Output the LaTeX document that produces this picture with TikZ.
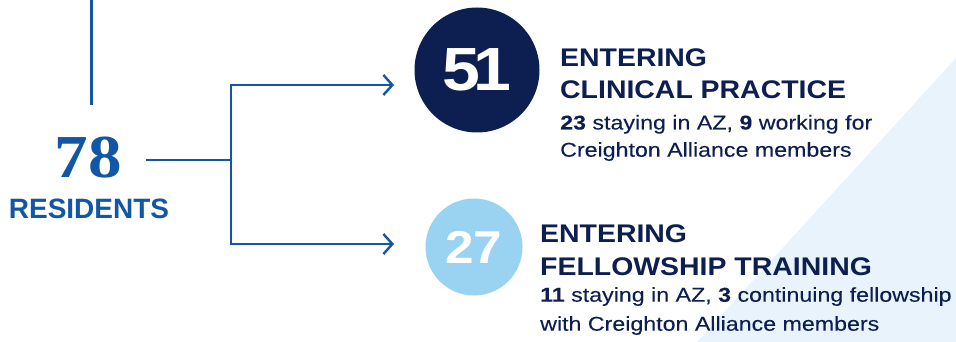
\documentclass[tikz,border=0pt]{standalone}
\usepackage{fontspec}
\setmainfont{Liberation Sans}
\newfontfamily\headfont[FakeStretch=1.115]{Liberation Sans}
\newfontfamily\bodyfont[FakeStretch=1.16,FakeBold=0.12]{Liberation Sans}
\newfontfamily\numserif[FakeStretch=1.1]{Liberation Serif}
\usetikzlibrary{arrows.meta}
\definecolor{lineblue}{HTML}{1256A6}
\definecolor{navy}{HTML}{0C1F50}
\definecolor{lightblue}{HTML}{9AD3F1}
\definecolor{bgblue}{HTML}{E8F3FC}
\tikzset{
  conn/.style={draw=lineblue, line width=2.4pt},
  arr/.style={conn, -{Straight Barb[length=9pt,width=20pt]}},
  headtxt/.style={anchor=base west, inner sep=0pt, text=navy, font=\headfont\bfseries\fontsize{25.5}{26}\selectfont},
  bodytxt/.style={anchor=base west, inner sep=0pt, text=navy, font=\bodyfont\fontsize{20}{21}\selectfont},
  bigcircle/.style={circle, inner sep=0pt, text=white, font=\headfont\bfseries}
}
\begin{document}
\begin{tikzpicture}[x=1pt,y=-1pt]
\useasboundingbox (0,0) rectangle (956,342);
% background triangle
\fill[bgblue] (956,58) -- (956,342) -- (697,342) -- cycle;

% left side
\node[anchor=base, inner sep=0pt, text=lineblue, font=\numserif\bfseries\fontsize{61}{61}\selectfont] (num78) at (88,178) {78};
\node[anchor=base, inner sep=0pt, text=lineblue, font=\bfseries\fontsize{28}{28}\selectfont] (res) at (89,218.5) {RESIDENTS};

\coordinate (top0) at (91.5,0);
\coordinate (top1) at (91.5,105);
\coordinate (h0) at (146,160);
\coordinate (split) at (231,160);
\coordinate (t1) at (394,85);
\coordinate (t2) at (394,244);

\draw[conn] (top0) -- (top1);
\draw[conn] (h0) -- (split);
\draw[arr] (split) |- (t1);
\draw[arr] (split) |- (t2);

% circles
\node[bigcircle, fill=navy, minimum size=125pt, font=\headfont\bfseries\fontsize{61}{61}\selectfont] (c51) at (477,70) {5\kern-0.12em 1};
\node[bigcircle, fill=lightblue, minimum size=97pt, font=\headfont\bfseries\fontsize{46}{46}\selectfont] (c27) at (474,247) {27};

% texts
\node[headtxt] (h1a) at (560,66.7) {ENTERING};
\node[headtxt] (h1b) at (560,98.3) {CLINICAL PRACTICE};
\node[bodytxt] (b1a) at (560,129.5) {\textbf{23} staying in AZ, \textbf{9} working for};
\node[bodytxt] (b1b) at (560,156.7) {Creighton Alliance members};

\node[headtxt] (h2a) at (540,242.3) {ENTERING};
\node[headtxt] (h2b) at (540,275) {FELLOWSHIP TRAINING};
\node[bodytxt] (b2a) at (540,301.7) {\textbf{11} staying in AZ, \textbf{3} continuing fellowship};
\node[bodytxt] (b2b) at (540,330.7) {with Creighton Alliance members};
\end{tikzpicture}
\end{document}
